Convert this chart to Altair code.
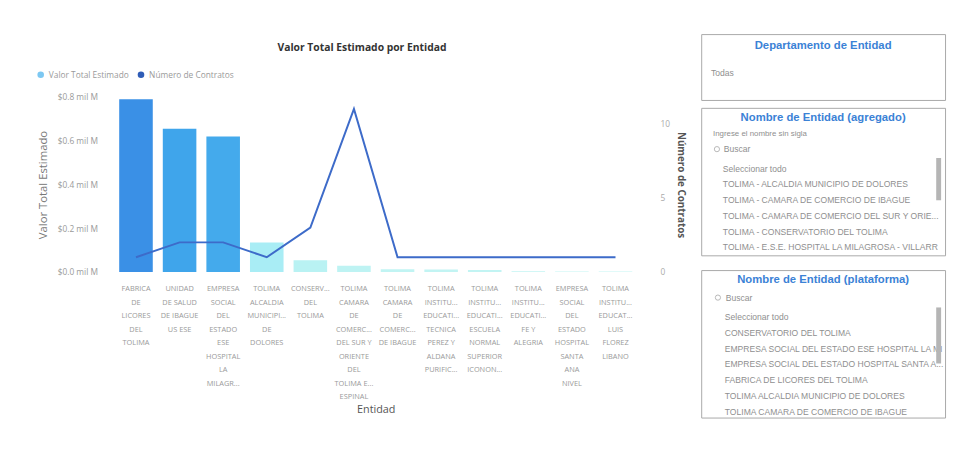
import altair as alt
import pandas as pd

# ---------------- data ----------------
titulo_grafico = "Valor Total Estimado por Entidad"
etiquetas = [
    "FABRICA|DE|LICORES|DEL|TOLIMA",
    "UNIDAD|DE SALUD|DE IBAGUE|US ESE",
    "EMPRESA|SOCIAL|DEL|ESTADO|ESE|HOSPITAL|LA|MILAGR...",
    "TOLIMA|ALCALDIA|MUNICIPI...|DE|DOLORES",
    "CONSERV...|DEL|TOLIMA",
    "TOLIMA|CAMARA|DE|COMERC...|DEL SUR Y|ORIENTE|DEL|TOLIMA E...|ESPINAL",
    "TOLIMA|CAMARA|DE|COMERC...|DE IBAGUE",
    "TOLIMA|INSTITU...|EDUCATI...|TECNICA|PEREZ Y|ALDANA|PURIFIC...",
    "TOLIMA|INSTITU...|EDUCATI...|ESCUELA|NORMAL|SUPERIOR|ICONON...",
    "TOLIMA|INSTITU...|EDUCATI...|FE Y|ALEGRIA",
    "EMPRESA|SOCIAL|DEL|ESTADO|HOSPITAL|SANTA|ANA|NIVEL",
    "TOLIMA|INSTITU...|EDUCAT...|LUIS|FLOREZ|LIBANO",
]
valor_mil_m = [0.79, 0.655, 0.62, 0.135, 0.054, 0.029, 0.013, 0.012, 0.009, 0.004, 0.003, 0.002]
contratos = [1, 2, 2, 1, 3, 11, 1, 1, 1, 1, 1, 1]

series = ["Valor Total Estimado", "Número de Contratos"]
series_colores = ["#7DC8F2", "#2F5DB7"]

slicer1_titulo = "Departamento de Entidad"
slicer1_items = ["Todas"]

slicer2_titulo = "Nombre de Entidad (agregado)"
slicer2_ayuda = "Ingrese el nombre sin sigla"
slicer2_items = [
    "Seleccionar todo",
    "TOLIMA - ALCALDIA MUNICIPIO DE DOLORES",
    "TOLIMA - CAMARA DE COMERCIO DE IBAGUE",
    "TOLIMA - CAMARA DE COMERCIO DEL SUR Y ORIE...",
    "TOLIMA - CONSERVATORIO DEL TOLIMA",
    "TOLIMA - E.S.E. HOSPITAL LA MILAGROSA - VILLARR",
]

slicer3_titulo = "Nombre de Entidad (plataforma)"
slicer3_items = [
    "Seleccionar todo",
    "CONSERVATORIO DEL TOLIMA",
    "EMPRESA SOCIAL DEL ESTADO ESE HOSPITAL LA MI",
    "EMPRESA SOCIAL DEL ESTADO HOSPITAL SANTA A...",
    "FABRICA DE LICORES DEL TOLIMA",
    "TOLIMA ALCALDIA MUNICIPIO DE DOLORES",
    "TOLIMA CAMARA DE COMERCIO DE IBAGUE",
]
buscar = "Buscar"

# ---------------- combo chart ----------------
df = pd.DataFrame({"etiqueta": etiquetas, "valor": valor_mil_m, "contratos": contratos})

xenc = alt.X(
    "etiqueta:N", sort=etiquetas,
    scale=alt.Scale(paddingInner=0.23, paddingOuter=0.115),
    axis=alt.Axis(
        labelExpr="split(datum.label, '|')", labelAngle=0, labelFontSize=7.5,
        labelLineHeight=13.75, labelColor="#9a9a9a", labelPadding=13,
        labelBaseline="top", labelOverlap=False, domain=False, ticks=False,
        title="Entidad", titleFontSize=11, titleColor="#555", titleFontWeight="normal",
        titlePadding=3,
    ),
)

base = alt.Chart(df).encode(x=xenc)

bars = base.mark_bar().encode(
    y=alt.Y(
        "valor:Q", scale=alt.Scale(domain=[0, 0.8], nice=False),
        axis=alt.Axis(
            orient="left", values=[0, 0.2, 0.4, 0.6, 0.8],
            labelExpr="'$' + format(datum.value, '.1f') + ' mil M'",
            grid=False, domain=False, ticks=False, labelFontSize=8.5,
            labelColor="#9a9a9a", labelPadding=17, title="Valor Total Estimado",
            titleFontSize=11.5, titleColor="#777", titleFontWeight="normal", titlePadding=9,
        ),
    ),
    fill=alt.Fill(
        "valor:Q",
        scale=alt.Scale(domain=[0, 0.15, 0.8], range=["#C4F5F3", "#A6ECF6", "#3A8EE5"]),
        legend=None,
    ),
)

line = base.mark_line(color="#3D6BC9", strokeWidth=2).encode(
    y=alt.Y(
        "contratos:Q", scale=alt.Scale(domain=[0, 11.8], nice=False),
        axis=alt.Axis(
            orient="right", values=[0, 5, 10], grid=False, domain=False, ticks=False,
            labelFontSize=8.5, labelColor="#aaa", labelPadding=23,
            title="Número de Contratos", titleFontSize=10, titleColor="#555",
            titleFontWeight="bold", titlePadding=6,
        ),
    )
)

leg = alt.Chart(pd.DataFrame({"serie": series})).mark_point(filled=True).encode(
    color=alt.Color(
        "serie:N", sort=series,
        scale=alt.Scale(domain=series, range=series_colores),
        legend=alt.Legend(
            title=None, orient="none", direction="horizontal", legendX=-79, legendY=37,
            symbolType="circle", symbolSize=45, symbolOpacity=1, labelFontSize=8.5,
            labelColor="#9a9a9a", columnPadding=8, symbolStrokeWidth=0,
        ),
    ),
    opacity=alt.value(0),
)

combo = alt.layer(bars, line, leg).resolve_scale(y="independent").properties(
    width=532, height=178,
)

encabezado = alt.Chart(pd.DataFrame({"t": [titulo_grafico]})).mark_text(
    font="Open Sans", fontSize=10.5, fontWeight="bold", color="#333",
    align="center", baseline="middle",
).encode(text="t:N", x=alt.value(252), y=alt.value(14)).properties(width=532, height=55)

izquierda = alt.vconcat(encabezado, combo, spacing=5)

# ---------------- slicer panels ----------------
PW = 248
item_color = "#8f8f8f"
title_color = "#3B82D6"
panel_view = alt.ViewBackground(stroke="#a8a8a8", strokeWidth=1, fill="white")


def titulo(texto, ypx):
    return alt.Chart(pd.DataFrame({"t": [texto]})).mark_text(
        font="Liberation Sans", fontSize=11.5, fontWeight="bold", color=title_color,
        align="center", baseline="middle",
    ).encode(text="t:N", x=alt.value(PW / 2), y=alt.value(ypx))


def lista(items, xpx, y0, paso):
    d = pd.DataFrame({"texto": items, "fila": list(range(len(items)))})
    return alt.Chart(d).mark_text(
        font="Liberation Sans", fontSize=8.7, color=item_color, align="left", baseline="middle",
    ).encode(
        text="texto:N", x=alt.value(xpx),
        y=alt.Y("fila:Q", axis=None, scale=alt.Scale(domain=[0, 1], range=[y0, y0 + paso], nice=False, zero=False)),
    )


def etiqueta(texto, xpx, ypx, size=8.7):
    return alt.Chart(pd.DataFrame({"t": [texto]})).mark_text(
        font="Liberation Sans", fontSize=size, color=item_color, align="left", baseline="middle",
    ).encode(text="t:N", x=alt.value(xpx), y=alt.value(ypx))


def icono(xpx, ypx):
    return alt.Chart(pd.DataFrame({"t": [buscar]})).mark_point(
        shape="circle", size=28, filled=False, color="#9a9a9a", strokeWidth=1,
    ).encode(x=alt.value(xpx), y=alt.value(ypx))


def scroll(y1, y2):
    return alt.Chart(pd.DataFrame({"t": [buscar]})).mark_rect(color="#b5b5b5").encode(
        x=alt.value(239), x2=alt.value(244), y=alt.value(y1), y2=alt.value(y2)
    )


p1 = alt.layer(
    titulo(slicer1_titulo, 12),
    lista(slicer1_items, 10, 40, 16),
).properties(width=PW, height=67, view=panel_view)

p2 = alt.layer(
    titulo(slicer2_titulo, 10),
    etiqueta(slicer2_ayuda, 12, 27, 8),
    icono(16, 42),
    etiqueta(buscar, 23, 42),
    lista(slicer2_items, 22, 62, 16),
    scroll(51, 94),
).properties(width=PW, height=150, view=panel_view)

p3 = alt.layer(
    titulo(slicer3_titulo, 10),
    icono(17, 28),
    etiqueta(buscar, 25, 28),
    lista(slicer3_items, 24, 48, 16),
    scroll(38, 95),
).properties(width=PW, height=150, view=panel_view)

derecha = alt.vconcat(alt.vconcat(p1, p2, spacing=6), p3, spacing=13)

chart = alt.hconcat(izquierda, derecha, spacing=15).properties(
    padding={"left": 29, "top": 22, "right": 2, "bottom": 2}
).configure(font="Open Sans").configure_view(stroke=None)

chart.save("out.html", embed_options={"renderer": "svg", "actions": False})
